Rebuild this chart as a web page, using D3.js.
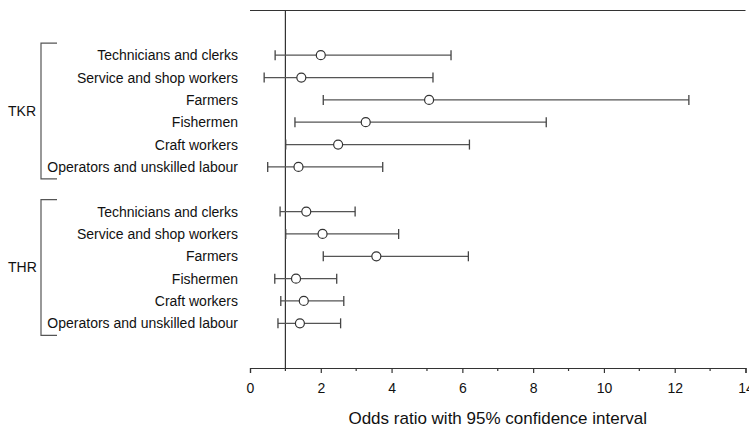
<!DOCTYPE html>
<html>
<head>
<meta charset="utf-8">
<script src="https://cdn.jsdelivr.net/npm/d3@7"></script>
<style>
  html, body { margin: 0; padding: 0; background: #fff; }
  svg { display: block; font-family: "Liberation Sans", Arial, sans-serif; }
</style>
</head>
<body>
<svg id="chart" width="749" height="427"></svg>
<script>
// Occupation categories (same order in both groups)
const categories = [
  "Technicians and clerks",
  "Service and shop workers",
  "Farmers",
  "Fishermen",
  "Craft workers",
  "Operators and unskilled labour"
];
const groups = ["TKR", "THR"];

// Odds ratios with 95% confidence limits, per group
const tkrOR    = [2.00, 1.45, 5.06, 3.27, 2.49, 1.37];
const tkrLower = [0.71, 0.40, 2.07, 1.27, 1.01, 0.50];
const tkrUpper = [5.68, 5.17, 12.40, 8.37, 6.20, 3.75];

const thrOR    = [1.59, 2.05, 3.57, 1.30, 1.52, 1.41];
const thrLower = [0.85, 1.01, 2.07, 0.70, 0.87, 0.79];
const thrUpper = [2.97, 4.20, 6.17, 2.45, 2.65, 2.56];

const xTicks = [0, 2, 4, 6, 8, 10, 12, 14];
const xMinorTicks = [1, 3, 5, 7, 9, 11, 13];
const refValue = 1;

const rows = [];
[[tkrOR, tkrLower, tkrUpper], [thrOR, thrLower, thrUpper]].forEach((g, gi) => {
  categories.forEach((c, i) => {
    rows.push({ group: groups[gi], cat: c, or: g[0][i], lo: g[1][i], hi: g[2][i], slot: 2 + gi * 7 + i });
  });
});

const svg = d3.select("#chart");
const ink = "#333";

const x = d3.scaleLinear().domain([0, 14]).range([250, 745.5]);
// vertical slots: 0 = top border, 16 = x axis
const y = d3.scaleLinear().domain([0, 16]).range([10.5, 368]);

// top border
svg.append("line")
  .attr("x1", x(0)).attr("x2", x(14))
  .attr("y1", y(0)).attr("y2", y(0))
  .attr("stroke", ink).attr("stroke-width", 1.2);

// x axis
const axis = d3.axisBottom(x).tickValues(xTicks).tickSizeOuter(0).tickSize(5).tickPadding(10);
const gx = svg.append("g").attr("transform", `translate(0,${y(16)})`).call(axis);
gx.select(".domain").attr("stroke", ink).attr("stroke-width", 1.2);
gx.selectAll(".tick line").attr("stroke", ink).attr("stroke-width", 1.2);
gx.selectAll(".tick text").attr("fill", "#111").attr("font-size", 14)
  .attr("font-family", "Liberation Sans, Arial, sans-serif");
gx.selectAll(".minor").data(xMinorTicks).enter().append("line")
  .attr("x1", d => x(d)).attr("x2", d => x(d))
  .attr("y1", 0).attr("y2", 3)
  .attr("stroke", ink).attr("stroke-width", 1.2);

svg.append("text")
  .attr("x", (x(0) + x(14)) / 2).attr("y", 418).attr("dy", "0.36em")
  .attr("text-anchor", "middle")
  .attr("font-size", 17).attr("fill", "#111")
  .text("Odds ratio with 95% confidence interval");

// reference line at OR = 1
svg.append("line")
  .attr("x1", x(refValue)).attr("x2", x(refValue))
  .attr("y1", y(0)).attr("y2", y(16))
  .attr("stroke", ink).attr("stroke-width", 1.2);

// category labels
svg.selectAll(".cat").data(rows).enter().append("text")
  .attr("x", 238).attr("y", d => y(d.slot)).attr("dy", "0.36em")
  .attr("text-anchor", "end")
  .attr("font-size", 14).attr("fill", "#111")
  .text(d => d.cat);

// group brackets
groups.forEach((g, gi) => {
  const top = y(2 + gi * 7) - 12;
  const bot = y(7 + gi * 7) + 12;
  svg.append("path")
    .attr("d", `M57,${top}H41V${bot}H57`)
    .attr("fill", "none").attr("stroke", "#555").attr("stroke-width", 1.2);
  svg.append("text")
    .attr("x", 8).attr("y", (top + bot) / 2).attr("dy", "0.36em")
    .attr("font-size", 14).attr("fill", "#111")
    .text(g);
});

// confidence intervals
const ci = svg.selectAll(".ci").data(rows).enter().append("g");
ci.append("line")
  .attr("x1", d => x(d.lo)).attr("x2", d => x(d.hi))
  .attr("y1", d => y(d.slot)).attr("y2", d => y(d.slot))
  .attr("stroke", "#555").attr("stroke-width", 1.3);
ci.append("line")
  .attr("x1", d => x(d.lo)).attr("x2", d => x(d.lo))
  .attr("y1", d => y(d.slot) - 5).attr("y2", d => y(d.slot) + 5)
  .attr("stroke", "#444").attr("stroke-width", 1.3);
ci.append("line")
  .attr("x1", d => x(d.hi)).attr("x2", d => x(d.hi))
  .attr("y1", d => y(d.slot) - 5).attr("y2", d => y(d.slot) + 5)
  .attr("stroke", "#444").attr("stroke-width", 1.3);
ci.append("circle")
  .attr("cx", d => x(d.or)).attr("cy", d => y(d.slot))
  .attr("r", 4.5)
  .attr("fill", "#fff").attr("stroke", "#333").attr("stroke-width", 1.2);
</script>
</body>
</html>
